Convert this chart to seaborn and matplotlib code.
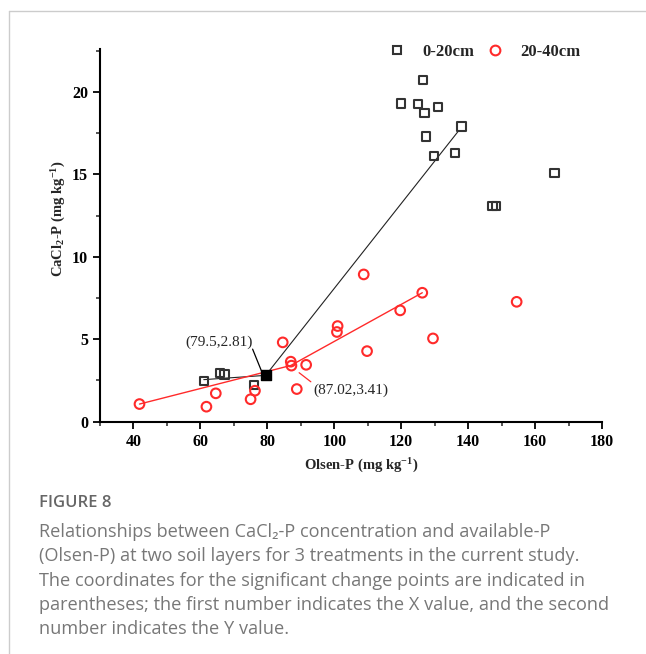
import matplotlib
matplotlib.use("Agg")
import matplotlib.pyplot as plt
from matplotlib.lines import Line2D
from matplotlib.ticker import MultipleLocator
import seaborn as sns
import pandas as pd

# ---- data ----
top_x = [126.5, 120.0, 125.0, 127.0, 131.0, 138.0, 127.5, 129.8, 136.0, 165.8,
         147.3, 148.3, 61.0, 65.8, 67.2, 76.0]
top_y = [20.7, 19.3, 19.25, 18.7, 19.1, 17.9, 17.3, 16.1, 16.3, 15.1,
         13.07, 13.07, 2.48, 2.97, 2.87, 2.22]
sub_x = [41.8, 61.8, 64.6, 75.0, 76.3, 84.6, 87.0, 87.2, 88.8, 91.6,
         108.8, 101.0, 100.8, 109.8, 126.3, 119.7, 129.5, 154.5]
sub_y = [1.07, 0.91, 1.72, 1.36, 1.88, 4.81, 3.64, 3.40, 1.98, 3.45,
         8.93, 5.80, 5.44, 4.28, 7.82, 6.75, 5.05, 7.27]
top_fit_x = [61.0, 79.5, 137.0]
top_fit_y = [2.55, 2.81, 17.6]
sub_fit_x = [41.8, 87.02, 126.3]
sub_fit_y = [1.07, 3.41, 7.82]
cp_top = (79.5, 2.81)
cp_sub = (87.02, 3.41)
series_labels = ["0-20cm", "20-40cm"]
xticks = [40, 60, 80, 100, 120, 140, 160, 180]
yticks = [0, 5, 10, 15, 20]

caption_title = "FIGURE 8"
caption_lines = [
    "Relationships between CaCl\u2082-P concentration and available-P",
    "(Olsen-P) at two soil layers for 3 treatments in the current study.",
    "The coordinates for the significant change points are indicated in",
    "parentheses; the first number indicates the X value, and the second",
    "number indicates the Y value.",
]

sns.set_style("ticks")
plt.rcParams["font.family"] = ["Liberation Serif", "DejaVu Serif"]
plt.rcParams["mathtext.fontset"] = "custom"
plt.rcParams["mathtext.rm"] = "Liberation Serif"
plt.rcParams["mathtext.bf"] = "Liberation Serif:bold"
plt.rcParams["mathtext.default"] = "bf"

W, H = 646, 654
fig = plt.figure(figsize=(W / 100, H / 100), dpi=100)
ax = fig.add_axes([100 / W, 1 - 421.7 / H, 502 / W, 372.7 / H])

top_df = pd.DataFrame({"x": top_x, "y": top_y})
sub_df = pd.DataFrame({"x": sub_x, "y": sub_y})
sq_color = "#333333"
red = "#ff2a2a"

sns.lineplot(x=top_fit_x, y=top_fit_y, ax=ax, color="#222222", lw=0.8, sort=False)
sns.lineplot(x=sub_fit_x, y=sub_fit_y, ax=ax, color=red, lw=1.0, sort=False)

sns.scatterplot(data=top_df, x="x", y="y", ax=ax, marker="s", s=36,
                facecolor="none", edgecolor=sq_color, linewidth=1.5, zorder=3)
sns.scatterplot(data=sub_df, x="x", y="y", ax=ax, marker="o", s=48,
                facecolor="none", edgecolor=red, linewidth=1.5, zorder=3)
sns.scatterplot(x=[cp_top[0]], y=[cp_top[1]], ax=ax, marker="s", s=48,
                color="black", edgecolor="black", linewidth=1, zorder=4)

# annotations
ax.text(65.5, 4.83, "(79.5,2.81)", fontsize=11, ha="center", va="center",
        fontfamily="Liberation Serif")
ax.plot([75.6, 78.2], [4.4, 3.1], color="black", lw=0.9)
ax.text(104.9, 1.92, "(87.02,3.41)", fontsize=11, ha="center", va="center",
        fontfamily="Liberation Serif")
ax.plot([89.5, 93.0], [2.97, 2.42], color=red, lw=0.9)

ax.set_xlim(30, 180)
ax.set_ylim(0, 22.6)
ax.set_xticks(xticks)
ax.set_yticks(yticks)
ax.xaxis.set_minor_locator(MultipleLocator(10))
ax.yaxis.set_minor_locator(MultipleLocator(2.5))
ax.tick_params(axis="both", which="major", direction="out", length=5, width=1.3,
               labelsize=11.5, colors="black")
ax.tick_params(axis="both", which="minor", direction="out", length=3, width=1.1)
for lab in ax.get_xticklabels() + ax.get_yticklabels():
    lab.set_fontweight("bold")
for sp in ["top", "right"]:
    ax.spines[sp].set_visible(False)
for sp in ["left", "bottom"]:
    ax.spines[sp].set_linewidth(1.5)
    ax.spines[sp].set_color("black")

ax.set_xlabel("Olsen-P (mg kg$^{-1}$)", fontsize=10.5, fontweight="bold")
ax.set_ylabel("CaCl$_{2}$-P (mg kg$^{-1}$)", fontsize=10.5, fontweight="bold")
ax.xaxis.set_label_coords(0.52, -0.095)
ax.yaxis.set_label_coords(-0.064, 0.544)

handles = [
    Line2D([], [], marker="s", ls="none", markersize=6, markerfacecolor="none",
           markeredgecolor=sq_color, markeredgewidth=1.5),
    Line2D([], [], marker="o", ls="none", markersize=7, markerfacecolor="none",
           markeredgecolor=red, markeredgewidth=1.5),
]
leg = ax.legend(handles, series_labels, loc="center left",
                bbox_to_anchor=(388.7 / W, 1 - 52 / H), bbox_transform=fig.transFigure,
                ncol=2, frameon=False, handlelength=1.0, handletextpad=1.0,
                columnspacing=0.76, borderpad=0, borderaxespad=0,
                prop={"family": "Liberation Serif", "weight": "bold", "size": 12})

# frame lines
fig.add_artist(Line2D([9 / W, 1], [1 - 11 / H, 1 - 11 / H], transform=fig.transFigure,
                      color="#cccccc", lw=1))
fig.add_artist(Line2D([9 / W, 9 / W], [1 - 11 / H, 0], transform=fig.transFigure,
                      color="#cccccc", lw=1))

cap_fam = ["Open Sans", "DejaVu Sans"]
fig.text(39 / W, 1 - 506.7 / H, caption_title, fontsize=12, color="#666666",
         fontfamily=cap_fam, fontweight="semibold", va="baseline", ha="left")
baselines = [537, 561.3, 585.6, 610, 634.2]
for line, b in zip(caption_lines, baselines):
    fig.text(39 / W, 1 - b / H, line, fontsize=13.1, color="#777777",
             fontfamily=cap_fam, va="baseline", ha="left")

fig.savefig("out.png", dpi=100)
